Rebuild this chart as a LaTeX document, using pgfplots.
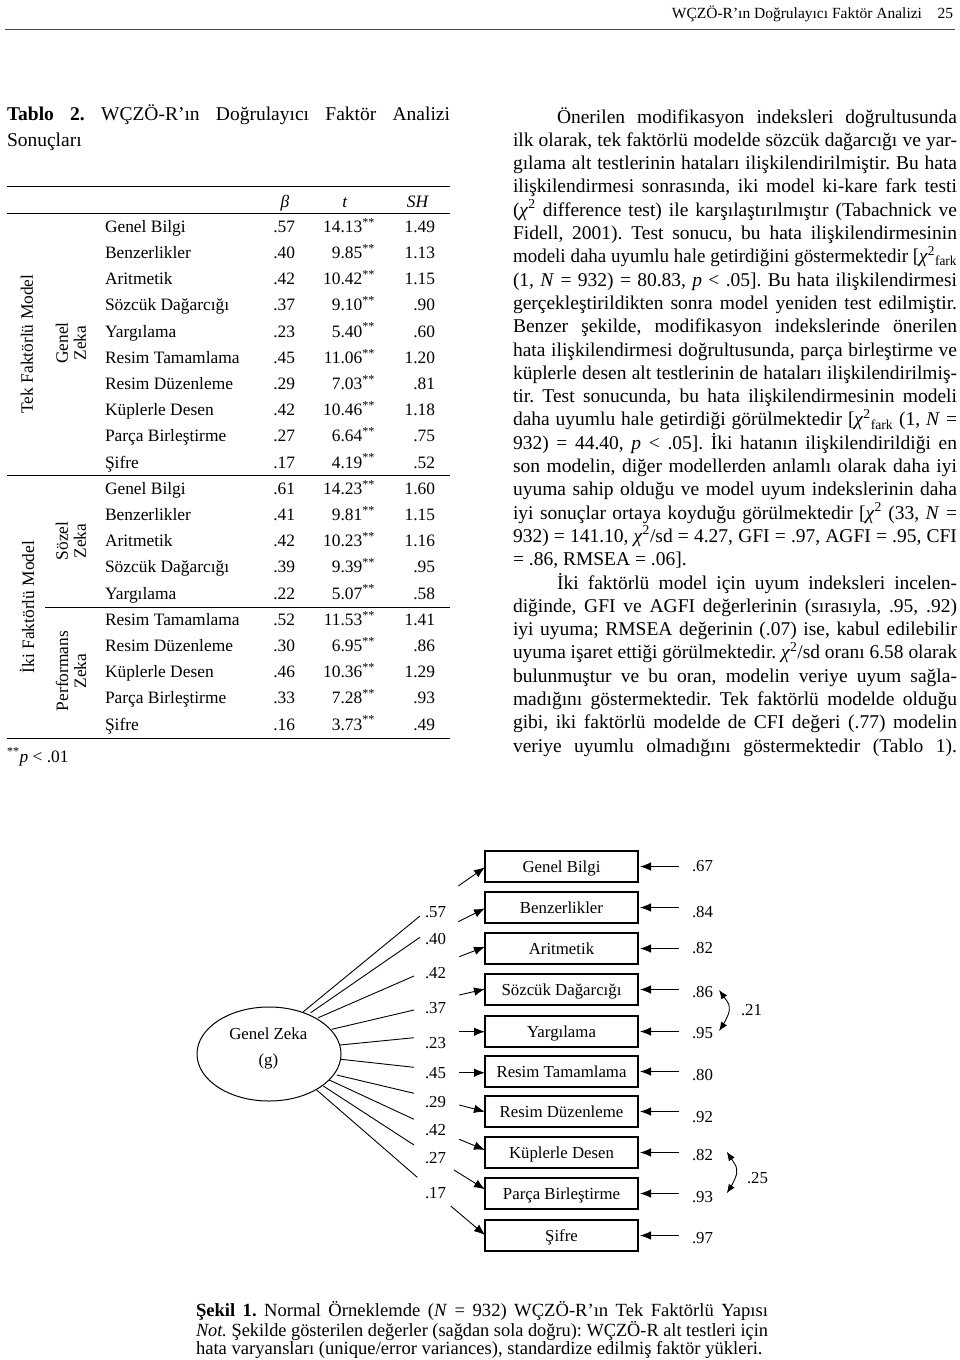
\documentclass[border=0pt]{standalone}
\usepackage{pgfplots}
\pgfplotsset{compat=1.18}
\usepackage{graphicx}
\usepackage{fontspec}
\setmainfont{Liberation Serif}
\usetikzlibrary{arrows.meta,shapes.geometric}
\frenchspacing

\newcommand\fhead{\fontsize{15.5}{18}\selectfont}
\newcommand\fbody{\fontsize{19.5}{23.3}\selectfont}
\newcommand\ftab{\fontsize{17.4}{18}\selectfont}
\newcommand\fdia{\fontsize{16.8}{19}\selectfont}
\newcommand\fcap{\fontsize{18.6}{19.5}\selectfont}
\newcommand\chisq{\textit{χ}\textsuperscript{2}}
\newcommand\chifark{\textit{χ}\textsuperscript{2}\textsubscript{fark}}

% justified line of a given width; squeezed if too long
\newcommand\fitline[2]{\sbox0{#2}\ifdim\wd0>#1\relax\resizebox{#1}{\ht0}{\usebox0}\else\makebox[#1][s]{#2}\fi}

% table row: index, name, beta, t, SH
\newcommand\trow[5]{%
  \node[anchor=base west,font=\ftab] at (axis cs:105,{232.3+(#1-1)*26.2}) {#2};
  \node[anchor=base east,font=\ftab] at (axis cs:295,{232.3+(#1-1)*26.2}) {#3};
  \node[anchor=base east,font=\ftab] at (axis cs:375,{232.3+(#1-1)*26.2}) {#4\textsuperscript{**}};
  \node[anchor=base east,font=\ftab] at (axis cs:435,{232.3+(#1-1)*26.2}) {#5};}
% body text lines: index, text
\newcommand\bj[2]{\node[anchor=base west,font=\fbody] at (axis cs:513,{123+(#1-1)*23.3}) {\fitline{444pt}{#2}};}
\newcommand\bi[2]{\node[anchor=base west,font=\fbody] at (axis cs:557,{123+(#1-1)*23.3}) {\fitline{400pt}{#2}};}
\newcommand\bn[2]{\node[anchor=base west,font=\fbody] at (axis cs:513,{123+(#1-1)*23.3}) {#2};}

\begin{document}
\begin{tikzpicture}[every node/.style={inner sep=0pt,outer sep=0pt}]
\begin{axis}[width=960pt,height=1360pt,scale only axis,
  xmin=0,xmax=960,ymin=0,ymax=1360,y dir=reverse,hide axis,clip=false]

% running head
\node[anchor=base east,font=\fhead] at (axis cs:922,18) {WÇZÖ-R’ın Doğrulayıcı Faktör Analizi};
\node[anchor=base east,font=\fhead] at (axis cs:953,18) {25};
\addplot[black!70,line width=1.4pt] coordinates {(5,29.5)(955,29.5)};

% table title
\node[anchor=base west,font=\fbody] at (axis cs:7,120) {\fitline{443pt}{\textbf{Tablo 2.} WÇZÖ-R’ın Doğrulayıcı Faktör Analizi}};
\node[anchor=base west,font=\fbody] at (axis cs:7,146) {Sonuçları};

% table rules
\addplot[black,line width=1.5pt] coordinates {(7,186.7)(450,186.7)};
\addplot[black,line width=1.1pt] coordinates {(7,213.3)(450,213.3)};
\addplot[black,line width=1.1pt] coordinates {(7,475.7)(450,475.7)};
\addplot[black,line width=1.1pt] coordinates {(45,607.3)(450,607.3)};
\addplot[black,line width=1.5pt] coordinates {(7,738.3)(450,738.3)};

% table header
\node[anchor=base,font=\ftab] at (axis cs:285,207) {\textit{β}};
\node[anchor=base,font=\ftab] at (axis cs:345,207) {\textit{t}};
\node[anchor=base,font=\ftab] at (axis cs:418,207) {\textit{SH}};

% table body
\trow{1}{Genel Bilgi}{.57}{14.13}{1.49}
\trow{2}{Benzerlikler}{.40}{9.85}{1.13}
\trow{3}{Aritmetik}{.42}{10.42}{1.15}
\trow{4}{Sözcük Dağarcığı}{.37}{9.10}{.90}
\trow{5}{Yargılama}{.23}{5.40}{.60}
\trow{6}{Resim Tamamlama}{.45}{11.06}{1.20}
\trow{7}{Resim Düzenleme}{.29}{7.03}{.81}
\trow{8}{Küplerle Desen}{.42}{10.46}{1.18}
\trow{9}{Parça Birleştirme}{.27}{6.64}{.75}
\trow{10}{Şifre}{.17}{4.19}{.52}
\trow{11}{Genel Bilgi}{.61}{14.23}{1.60}
\trow{12}{Benzerlikler}{.41}{9.81}{1.15}
\trow{13}{Aritmetik}{.42}{10.23}{1.16}
\trow{14}{Sözcük Dağarcığı}{.39}{9.39}{.95}
\trow{15}{Yargılama}{.22}{5.07}{.58}
\trow{16}{Resim Tamamlama}{.52}{11.53}{1.41}
\trow{17}{Resim Düzenleme}{.30}{6.95}{.86}
\trow{18}{Küplerle Desen}{.46}{10.36}{1.29}
\trow{19}{Parça Birleştirme}{.33}{7.28}{.93}
\trow{20}{Şifre}{.16}{3.73}{.49}

% rotated group labels
\node[rotate=90,font=\ftab] at (axis cs:27,344) {Tek Faktörlü Model};
\node[rotate=90,font=\ftab,align=center] at (axis cs:71,343) {Genel\\Zeka};
\node[rotate=90,font=\ftab] at (axis cs:27,607) {İki Faktörlü Model};
\node[rotate=90,font=\ftab,align=center] at (axis cs:71,541) {Sözel\\Zeka};
\node[rotate=90,font=\ftab,align=center] at (axis cs:71,671) {Performans\\Zeka};
\node[anchor=base west,font=\ftab] at (axis cs:7,762) {\textsuperscript{**}\textit{p} < .01};

% right column text
\bi{1}{Önerilen modifikasyon indeksleri doğrultusunda}
\bj{2}{ilk olarak, tek faktörlü modelde sözcük dağarcığı ve yar-}
\bj{3}{gılama alt testlerinin hataları ilişkilendirilmiştir. Bu hata}
\bj{4}{ilişkilendirmesi sonrasında, iki model ki-kare fark testi}
\bj{5}{(\chisq{} difference test) ile karşılaştırılmıştır (Tabachnick ve}
\bj{6}{Fidell, 2001). Test sonucu, bu hata ilişkilendirmesinin}
\bj{7}{modeli daha uyumlu hale getirdiğini göstermektedir [\chifark}
\bj{8}{(1, \textit{N} = 932) = 80.83, \textit{p} < .05]. Bu hata ilişkilendirmesi}
\bj{9}{gerçekleştirildikten sonra model yeniden test edilmiştir.}
\bj{10}{Benzer şekilde, modifikasyon indekslerinde önerilen}
\bj{11}{hata ilişkilendirmesi doğrultusunda, parça birleştirme ve}
\bj{12}{küplerle desen alt testlerinin de hataları ilişkilendirilmiş-}
\bj{13}{tir. Test sonucunda, bu hata ilişkilendirmesinin modeli}
\bj{14}{daha uyumlu hale getirdiği görülmektedir [\chifark{} (1, \textit{N} =}
\bj{15}{932) = 44.40, \textit{p} < .05]. İki hatanın ilişkilendirildiği en}
\bj{16}{son modelin, diğer modellerden anlamlı olarak daha iyi}
\bj{17}{uyuma sahip olduğu ve model uyum indekslerinin daha}
\bj{18}{iyi sonuçlar ortaya koyduğu görülmektedir [\chisq{} (33, \textit{N} =}
\bj{19}{932) = 141.10, \chisq/sd = 4.27, GFI = .97, AGFI = .95, CFI}
\bn{20}{= .86, RMSEA = .06].}
\bi{21}{İki faktörlü model için uyum indeksleri incelen-}
\bj{22}{diğinde, GFI ve AGFI değerlerinin (sırasıyla, .95, .92)}
\bj{23}{iyi uyuma; RMSEA değerinin (.07) ise, kabul edilebilir}
\bj{24}{uyuma işaret ettiği görülmektedir. \chisq/sd oranı 6.58 olarak}
\bj{25}{bulunmuştur ve bu oran, modelin veriye uyum sağla-}
\bj{26}{madığını göstermektedir. Tek faktörlü modelde olduğu}
\bj{27}{gibi, iki faktörlü modelde de CFI değeri (.77) modelin}
\bj{28}{veriye uyumlu olmadığını göstermektedir (Tablo 1).}

% ---- path diagram ----
% observed variable boxes
\addplot[black,line width=1.1pt,unbounded coords=jump] coordinates {
(485,851)(638,851)(638,882)(485,882)(485,851)(638,851)(nan,nan)
(485,892)(638,892)(638,923)(485,923)(485,892)(638,892)(nan,nan)
(485,933)(638,933)(638,964)(485,964)(485,933)(638,933)(nan,nan)
(485,974)(638,974)(638,1005)(485,1005)(485,974)(638,974)(nan,nan)
(485,1016)(638,1016)(638,1047)(485,1047)(485,1016)(638,1016)(nan,nan)
(485,1056)(638,1056)(638,1087)(485,1087)(485,1056)(638,1056)(nan,nan)
(485,1096)(638,1096)(638,1127)(485,1127)(485,1096)(638,1096)(nan,nan)
(485,1137)(638,1137)(638,1168)(485,1168)(485,1137)(638,1137)(nan,nan)
(485,1178)(638,1178)(638,1209)(485,1209)(485,1178)(638,1178)(nan,nan)
(485,1220)(638,1220)(638,1251)(485,1251)(485,1220)(638,1220)
};
\node[anchor=base,font=\fdia] at (axis cs:561.5,872) {Genel Bilgi};
\node[anchor=base,font=\fdia] at (axis cs:561.5,913) {Benzerlikler};
\node[anchor=base,font=\fdia] at (axis cs:561.5,954) {Aritmetik};
\node[anchor=base,font=\fdia] at (axis cs:561.5,995) {Sözcük Dağarcığı};
\node[anchor=base,font=\fdia] at (axis cs:561.5,1037) {Yargılama};
\node[anchor=base,font=\fdia] at (axis cs:561.5,1077) {Resim Tamamlama};
\node[anchor=base,font=\fdia] at (axis cs:561.5,1117) {Resim Düzenleme};
\node[anchor=base,font=\fdia] at (axis cs:561.5,1158) {Küplerle Desen};
\node[anchor=base,font=\fdia] at (axis cs:561.5,1199) {Parça Birleştirme};
\node[anchor=base,font=\fdia] at (axis cs:561.5,1241) {Şifre};

% latent variable
\node[draw,ellipse,line width=1pt,minimum width=144pt,minimum height=94pt] at (axis cs:269,1054) {};
\node[anchor=base,font=\fdia] at (axis cs:268.3,1039.5) {Genel Zeka};
\node[anchor=base,font=\fdia] at (axis cs:268.3,1065.5) {(g)};

% loading lines from the ellipse
\addplot[black,line width=0.9pt,unbounded coords=jump] coordinates {
(303.3,1011.7)(420,916)(nan,nan)
(310.7,1012.7)(420,937.3)(nan,nan)
(318.3,1017.7)(414,976)(nan,nan)
(331.7,1029.3)(414,1010)(nan,nan)
(340,1045)(414,1037.7)(nan,nan)
(341,1059.3)(414,1067.3)(nan,nan)
(336.7,1075)(414,1093.3)(nan,nan)
(329.3,1080)(414,1119.3)(nan,nan)
(323.3,1086)(414,1145)(nan,nan)
(316.7,1090)(417.3,1177.3)
};
% loading arrows into the boxes
\addplot[black,line width=0.9pt,-{Latex[length=11pt,width=8.5pt]},
  quiver={u=\thisrow{u},v=\thisrow{v}}] table {
x y u v
458.3 886 26.7 -18.7
458.3 921.7 26.7 -13.4
459.3 956.7 25.7 -10
459.3 995 25.7 -6
459.3 1031.7 25.7 0
459.3 1072.7 25.7 0
459.3 1105 25.7 6.7
459.3 1139.3 25.7 10.7
454 1170 31 19.3
450.7 1206 34.3 29
};
% loading values
\node[anchor=base,font=\fdia] at (axis cs:435.5,917) {.57};
\node[anchor=base,font=\fdia] at (axis cs:435.5,944.5) {.40};
\node[anchor=base,font=\fdia] at (axis cs:435.5,978.5) {.42};
\node[anchor=base,font=\fdia] at (axis cs:435.5,1013.5) {.37};
\node[anchor=base,font=\fdia] at (axis cs:435.5,1048.5) {.23};
\node[anchor=base,font=\fdia] at (axis cs:435.5,1078) {.45};
\node[anchor=base,font=\fdia] at (axis cs:435.5,1107) {.29};
\node[anchor=base,font=\fdia] at (axis cs:435.5,1135.5) {.42};
\node[anchor=base,font=\fdia] at (axis cs:435.5,1163.5) {.27};
\node[anchor=base,font=\fdia] at (axis cs:435.5,1198.5) {.17};

% error arrows from the right
\addplot[black,line width=0.9pt,-{Latex[length=11pt,width=8.5pt]},
  quiver={u=\thisrow{u},v=\thisrow{v}}] table {
x y u v
679 866.5 -39 0
679 907.5 -39 0
679 948.5 -39 0
679 989.5 -39 0
679 1031.5 -39 0
679 1071.5 -39 0
679 1111.5 -39 0
679 1152.5 -39 0
679 1193.5 -39 0
679 1235.5 -39 0
};
% error variances
\node[anchor=base west,font=\fdia] at (axis cs:692,871.5) {.67};
\node[anchor=base west,font=\fdia] at (axis cs:692,917) {.84};
\node[anchor=base west,font=\fdia] at (axis cs:692,953.5) {.82};
\node[anchor=base west,font=\fdia] at (axis cs:692,997) {.86};
\node[anchor=base west,font=\fdia] at (axis cs:692,1038.5) {.95};
\node[anchor=base west,font=\fdia] at (axis cs:692,1080.5) {.80};
\node[anchor=base west,font=\fdia] at (axis cs:692,1122.5) {.92};
\node[anchor=base west,font=\fdia] at (axis cs:692,1160.5) {.82};
\node[anchor=base west,font=\fdia] at (axis cs:692,1202) {.93};
\node[anchor=base west,font=\fdia] at (axis cs:692,1243.5) {.97};

% error covariances
\addplot[black,line width=0.9pt,smooth,{Latex[length=9pt,width=7pt]}-{Latex[length=9pt,width=7pt]}]
  coordinates {(719,990)(729.3,1010)(719,1031)};
\addplot[black,line width=0.9pt,smooth,{Latex[length=9pt,width=7pt]}-{Latex[length=9pt,width=7pt]}]
  coordinates {(726.7,1151.7)(736.7,1172.5)(726.7,1193.3)};
\node[anchor=base west,font=\fdia] at (axis cs:741,1015.5) {.21};
\node[anchor=base west,font=\fdia] at (axis cs:747,1183.5) {.25};

% caption
\node[anchor=base west,font=\fcap] at (axis cs:196,1316) {\fitline{572pt}{\textbf{Şekil 1.} Normal Örneklemde (\textit{N} = 932) WÇZÖ-R’ın Tek Faktörlü Yapısı}};
\node[anchor=base west,font=\fcap] at (axis cs:196,1336) {\fitline{572pt}{\textit{Not.} Şekilde gösterilen değerler (sağdan sola doğru): WÇZÖ-R alt testleri için}};
\node[anchor=base west,font=\fcap] at (axis cs:196,1354.5) {hata varyansları (unique/error variances), standardize edilmiş faktör yükleri.};

\end{axis}
\pgfresetboundingbox
\path (current axis.south west) rectangle (current axis.north east);
\end{tikzpicture}
\end{document}
